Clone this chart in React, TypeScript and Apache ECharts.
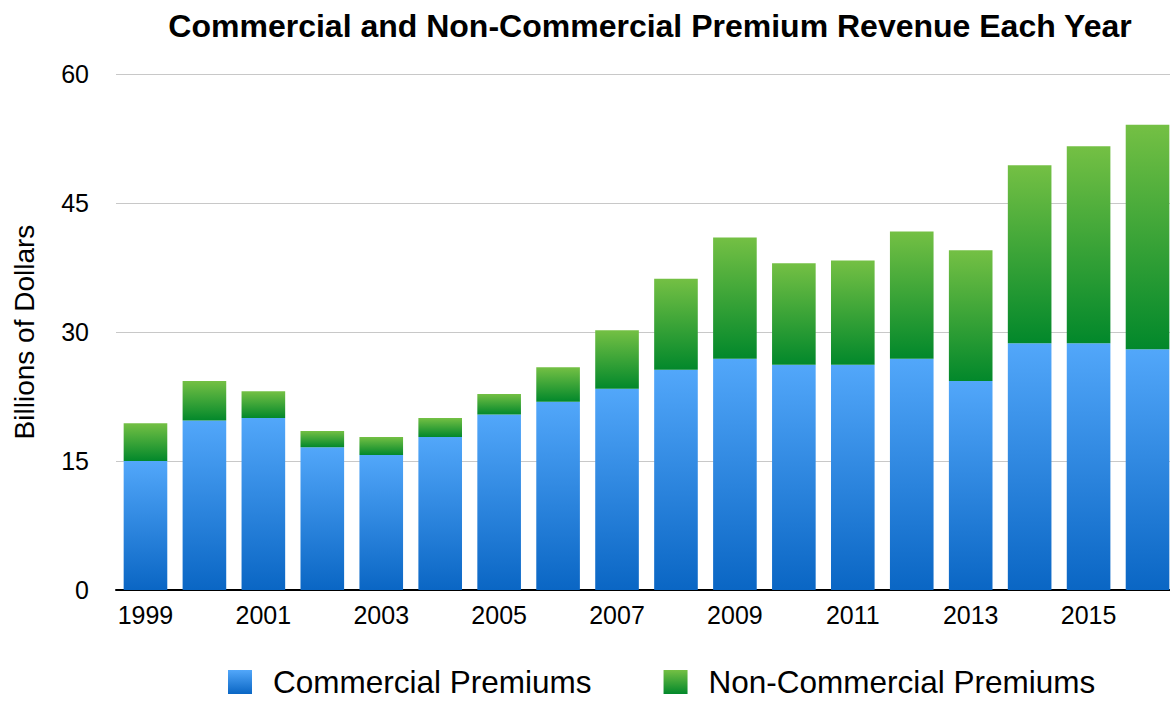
import React, { useEffect, useRef } from "react";
import * as echarts from "echarts";

const years = ["1999","2000","2001","2002","2003","2004","2005","2006","2007","2008","2009","2010","2011","2012","2013","2014","2015","2016"];
const commercial = [15.0, 19.7, 20.0, 16.6, 15.7, 17.8, 20.4, 21.9, 23.4, 25.6, 26.9, 26.2, 26.2, 26.9, 24.3, 28.7, 28.7, 28.0];
const totals = [19.4, 24.3, 23.1, 18.5, 17.8, 20.0, 22.8, 25.9, 30.2, 36.2, 41.0, 38.0, 38.3, 41.7, 39.5, 49.4, 51.6, 54.1];
const nonCommercial = totals.map((t, i) => +(t - commercial[i]).toFixed(2));
const yTicks = [0, 15, 30, 45, 60];

const FONT = "'Liberation Sans', Arial, Helvetica, sans-serif";

export default function App() {
  const ref = useRef<HTMLDivElement>(null);
  useEffect(() => {
    if (!ref.current) return;
    const chart = echarts.init(ref.current, undefined, { renderer: "svg" });
    const blue = new echarts.graphic.LinearGradient(0, 0, 0, 1, [
      { offset: 0, color: "#52a7fa" },
      { offset: 1, color: "#0a66c4" },
    ]);
    const green = new echarts.graphic.LinearGradient(0, 0, 0, 1, [
      { offset: 0, color: "#74c044" },
      { offset: 1, color: "#02882b" },
    ]);
    chart.setOption({
      animation: false,
      textStyle: { fontFamily: FONT },
      title: {
        text: "Commercial and Non-Commercial Premium Revenue Each Year",
        left: 645,
        textAlign: "center",
        top: 5,
        textStyle: { fontSize: 32, fontWeight: "bold", color: "#000", fontFamily: FONT },
      },
      legend: {
        bottom: 0,
        left: 223,
        itemWidth: 24,
        itemHeight: 24,
        itemGap: 72,
        icon: "rect",
        textStyle: { fontSize: 31.5, color: "#000", fontFamily: FONT, padding: [0, 0, 0, 16] },
        data: ["Commercial Premiums", "Non-Commercial Premiums"],
      },
      grid: { left: 116, right: 0, top: 74, bottom: 113, containLabel: false },
      xAxis: {
        type: "category",
        data: years,
        axisLine: { lineStyle: { color: "#000", width: 2 } },
        axisTick: { show: false },
        axisLabel: { interval: 1, fontSize: 25, color: "#000", margin: 12, fontFamily: FONT },
      },
      yAxis: {
        type: "value",
        min: yTicks[0],
        max: yTicks[yTicks.length - 1],
        interval: 15,
        name: "Billions of Dollars",
        nameLocation: "middle",
        nameGap: 78,
        nameTextStyle: { fontSize: 28, color: "#000", fontFamily: FONT },
        axisLine: { show: false },
        axisTick: { show: false },
        axisLabel: { fontSize: 25, color: "#000", margin: 27, fontFamily: FONT },
        splitLine: { lineStyle: { color: "#c8c8c8", width: 1 } },
      },
      series: [
        {
          name: "Commercial Premiums",
          type: "bar",
          stack: "total",
          data: commercial,
          barCategoryGap: "26%",
          itemStyle: { color: blue },
        },
        {
          name: "Non-Commercial Premiums",
          type: "bar",
          stack: "total",
          data: nonCommercial,
          barCategoryGap: "26%",
          itemStyle: { color: green },
        },
      ],
    });
    return () => chart.dispose();
  }, []);
  return (
    <div style={{ position: "fixed", left: 0, top: 0, width: 1170, height: 703, overflow: "hidden", background: "#fff" }}>
      <div ref={ref} style={{ width: 1177, height: 703 }} />
    </div>
  );
}
